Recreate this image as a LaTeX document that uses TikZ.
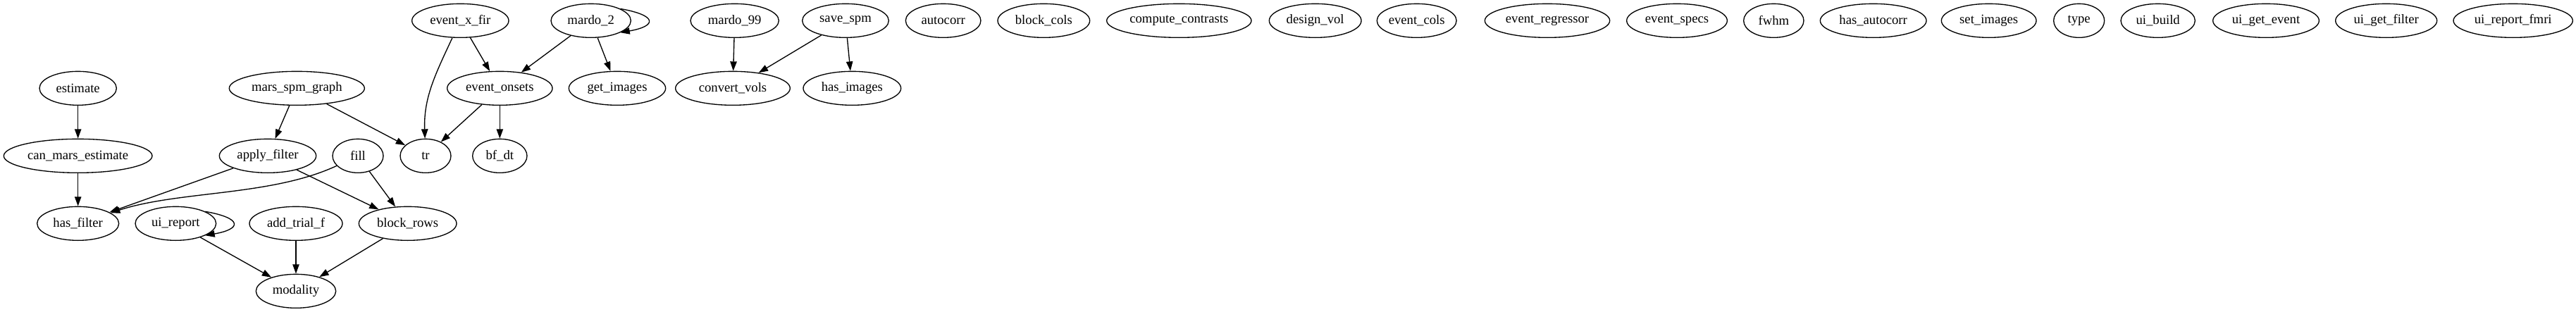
\documentclass[tikz,border=0pt]{standalone}
\usepackage{fontspec}
\setmainfont{Liberation Serif}
\usepackage{tikz}
\usetikzlibrary{shapes.geometric}
\usetikzlibrary{arrows.meta}
\tikzset{func/.style={ellipse, draw, line width=1pt, minimum height=36pt, inner sep=0pt}}
\tikzset{call/.style={-{Triangle[length=10pt, width=7pt]}, line width=1pt}}

\begin{document}
\begin{tikzpicture}[x=1pt,y=-1pt,font=\fontsize{14}{16}\selectfont]
  \useasboundingbox (0,0) rectangle (2742,332);
  \foreach \n/\x/\y/\w in {
    event_x_fir/490/22/103,
    mardo_2/629/22/85,
    mardo_99/782/22/94,
    save_spm/900/22/92,
    autocorr/1004/22/80,
    block_cols/1111/22/98,
    compute_contrasts/1255/22/154,
    design_vol/1400/22/98,
    event_cols/1508/22/84,
    event_regressor/1647/22/133,
    event_specs/1785/22/107,
    fwhm/1888/22/64,
    has_autocorr/1994/22/113,
    set_images/2117/22/101,
    type/2213/22/54,
    ui_build/2297/22/79,
    ui_get_event/2412/22/113,
    ui_get_filter/2540/22/108,
    ui_report_fmri/2675/22/127,
    estimate/83/94/82,
    mars_spm_graph/316/94/144,
    event_onsets/532/94/112,
    get_images/657/94/103,
    convert_vols/780/94/122,
    has_images/907/94/104,
    can_mars_estimate/83/166/158,
    apply_filter/285/166/103,
    fill/381/166/54,
    tr/453/166/54,
    bf_dt/532/166/58,
    has_filter/83/238/87,
    ui_report/187/238/86,
    add_trial_f/315/238/99,
    block_rows/434/238/104,
    modality/315/310/85%
  } {
    \node[func, minimum width=\w pt] (\n) at (\x, \y) {\expandafter\detokenize\expandafter{\n}};
  }
  \foreach \u/\v in {
    estimate/can_mars_estimate,
    can_mars_estimate/has_filter,
    mars_spm_graph/apply_filter,
    mars_spm_graph/tr,
    apply_filter/has_filter,
    apply_filter/block_rows,
    fill/block_rows,
    ui_report/modality,
    add_trial_f/modality,
    block_rows/modality,
    event_x_fir/event_onsets,
    event_onsets/tr,
    event_onsets/bf_dt,
    mardo_2/event_onsets,
    mardo_2/get_images,
    mardo_99/convert_vols,
    save_spm/convert_vols,
    save_spm/has_images%
  }{
    \draw[call] (\u) edge (\v);
  }
  % bent calls and self calls
  \draw[call] (fill) to[out=-155, in=18, looseness=0.8] (has_filter);
  \draw[call] (event_x_fir) to[out=-115, in=92] (tr);
  \draw[call] (ui_report.22) .. controls +(10:40) and +(-10:40) .. (ui_report.-22);
  \draw[call] (mardo_2.22) .. controls +(10:40) and +(-10:40) .. (mardo_2.-22);
\end{tikzpicture}
\end{document}
